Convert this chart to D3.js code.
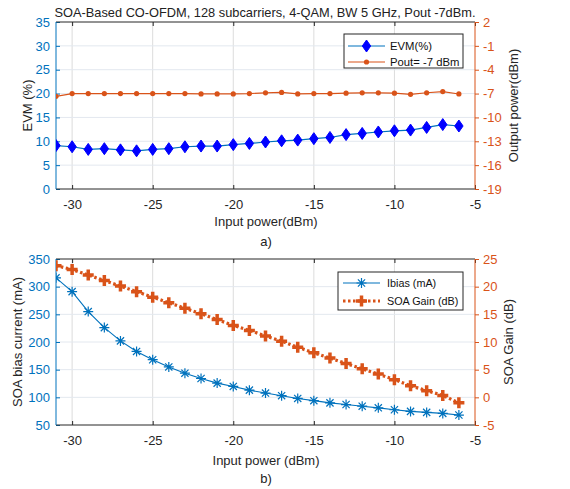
<!DOCTYPE html>
<html>
<head>
<meta charset="utf-8">
<script src="https://cdn.jsdelivr.net/npm/d3@7"></script>
<style>
  body { margin: 0; background: #fff; }
  svg { font-family: "Liberation Sans", Arial, sans-serif; }
</style>
</head>
<body>
<svg id="chart" width="570" height="489"></svg>
<script>
// Input power (dBm), shared by both panels
const inputPower = [-31, -30, -29, -28, -27, -26, -25, -24, -23, -22, -21, -20, -19,
                    -18, -17, -16, -15, -14, -13, -12, -11, -10, -9, -8, -7, -6];

// panel a)
const evm = [9.1, 8.85, 8.3, 8.45, 8.2, 8.0, 8.3, 8.45, 8.85, 9.0, 9.0, 9.3, 9.55,
             9.85, 10.1, 10.25, 10.55, 10.8, 11.4, 11.65, 11.95, 12.2, 12.35, 12.9, 13.5, 13.2];
const pout = [-7.35, -7.0, -7.0, -7.0, -7.0, -7.0, -7.0, -7.0, -7.0, -7.05, -7.05, -7.05, -7.0,
              -6.9, -6.85, -7.05, -7.0, -7.0, -6.95, -6.9, -6.9, -6.95, -7.1, -6.9, -6.75, -7.05];

// panel b)
const ibias = [316, 291, 255, 226, 202, 183, 168, 155, 143.7, 134, 125.7, 119.7, 113,
               107.7, 103, 98, 94, 90, 87, 84, 81, 77.6, 74.6, 72.8, 71, 68];
const gain = [23.8, 23.1, 22.1, 21.1, 20.1, 19.1, 18.1, 17.1, 16.1, 15.1, 14.05, 13.0, 12.1,
              11.1, 10.15, 9.05, 8.05, 7.1, 6.1, 5.15, 4.2, 3.2, 2.1, 1.2, 0.35, -1.0];

const xTicks = [-30, -25, -20, -15, -10, -5];
const evmTicks = [0, 5, 10, 15, 20, 25, 30, 35];
const poutTicks = [-19, -16, -13, -10, -7, -4, -1, 2];
const ibiasTicks = [50, 100, 150, 200, 250, 300, 350];
const gainTicks = [-5, 0, 5, 10, 15, 20, 25];

const BLUE = "#0072BD", ORANGE = "#D95319";
const fmt = d => String(d);   // plain hyphen minus, like the original

const svg = d3.select("#chart");

svg.append("text")
    .attr("x", 265).attr("y", 16.5)
    .attr("text-anchor", "middle")
    .attr("font-size", 12.8)
    .attr("fill", "#222")
    .text("SOA-Based CO-OFDM, 128 subcarriers, 4-QAM, BW 5 GHz, Pout -7dBm.");

function panel(opt) {
    const left = 56, right = 475;
    const x = d3.scaleLinear().domain([-31, -5]).range([left, right]);
    const yL = d3.scaleLinear().domain(opt.lDomain).range([opt.bottom, opt.top]);
    const yR = d3.scaleLinear().domain(opt.rDomain).range([opt.bottom, opt.top]);
    const g = svg.append("g");

    g.append("clipPath").attr("id", opt.id)
        .append("rect").attr("x", left).attr("y", opt.top)
        .attr("width", right - left).attr("height", opt.bottom - opt.top);

    // grid
    g.append("g").selectAll("line").data(xTicks.slice(0, -1)).join("line")
        .attr("x1", d => x(d)).attr("x2", d => x(d))
        .attr("y1", opt.top).attr("y2", opt.bottom)
        .attr("stroke", "#dcdcdc").attr("stroke-width", 1);
    g.append("g").selectAll("line").data(opt.lTicks.slice(1, -1)).join("line")
        .attr("x1", left).attr("x2", right)
        .attr("y1", d => yL(d)).attr("y2", d => yL(d))
        .attr("stroke", "#e3e8ef").attr("stroke-width", 1);

    // axes
    const xAxis = g.append("g").attr("transform", `translate(0,${opt.bottom})`)
        .call(d3.axisBottom(x).tickValues(xTicks).tickFormat(fmt).tickSize(-4).tickPadding(11));
    const xTop = g.append("g").attr("transform", `translate(0,${opt.top})`)
        .call(d3.axisTop(x).tickValues(xTicks).tickSize(-4).tickFormat(""));
    const lAxis = g.append("g").attr("transform", `translate(${left},0)`)
        .call(d3.axisLeft(yL).tickValues(opt.lTicks).tickFormat(fmt).tickSize(-4).tickPadding(6));
    const rAxis = g.append("g").attr("transform", `translate(${right},0)`)
        .call(d3.axisRight(yR).tickValues(opt.rTicks).tickFormat(fmt).tickSize(4).tickPadding(4));

    [[xAxis, "#262626"], [xTop, "#262626"], [lAxis, BLUE], [rAxis, ORANGE]].forEach(([a, c]) => {
        a.select(".domain").remove();
        a.selectAll(".tick line").attr("stroke", c);
        a.selectAll(".tick text").attr("fill", c)
            .attr("font-size", 13)
            .attr("font-family", "Liberation Sans, Arial, sans-serif");
    });
    g.append("line").attr("x1", left).attr("x2", right).attr("y1", opt.bottom).attr("y2", opt.bottom)
        .attr("stroke", "#262626");
    g.append("line").attr("x1", left).attr("x2", right).attr("y1", opt.top).attr("y2", opt.top)
        .attr("stroke", "#262626");
    g.append("line").attr("x1", left).attr("x2", left).attr("y1", opt.top).attr("y2", opt.bottom)
        .attr("stroke", BLUE);
    g.append("line").attr("x1", right).attr("x2", right).attr("y1", opt.top).attr("y2", opt.bottom)
        .attr("stroke", ORANGE);

    // labels
    g.append("text").attr("x", 266).attr("y", opt.xLabelY)
        .attr("text-anchor", "middle").attr("font-size", 13).attr("fill", "#262626")
        .text(opt.xLabel);
    g.append("text").attr("x", 266).attr("y", opt.tagY)
        .attr("text-anchor", "middle").attr("font-size", 13).attr("fill", "#222")
        .text(opt.tag);
    g.append("text")
        .attr("transform", `translate(${opt.lLabelX},${(opt.top + opt.bottom) / 2}) rotate(-90)`)
        .attr("text-anchor", "middle").attr("font-size", 13).attr("fill", "#262626")
        .text(opt.lLabel);
    g.append("text")
        .attr("transform", `translate(${opt.rLabelX},${(opt.top + opt.bottom) / 2}) rotate(-90)`)
        .attr("text-anchor", "middle").attr("font-size", 13).attr("fill", "#262626")
        .text(opt.rLabel);

    const plot = g.append("g").attr("clip-path", `url(#${opt.id})`);
    return { x, yL, yR, plot, g };
}

function diamond(sel, cx, cy, r, fill) {
    sel.append("path")
        .attr("d", `M${cx},${cy - r}L${cx + r * 0.7},${cy}L${cx},${cy + r}L${cx - r * 0.7},${cy}Z`)
        .attr("fill", fill).attr("stroke", fill);
}
function asterisk(sel, cx, cy, r, c) {
    const p = d3.path();
    p.moveTo(cx - r, cy); p.lineTo(cx + r, cy);
    p.moveTo(cx, cy - r); p.lineTo(cx, cy + r);
    const k = r * 0.72;
    p.moveTo(cx - k, cy - k); p.lineTo(cx + k, cy + k);
    p.moveTo(cx - k, cy + k); p.lineTo(cx + k, cy - k);
    sel.append("path").attr("d", p.toString()).attr("stroke", c).attr("stroke-width", 1.2).attr("fill", "none");
}
function plus(sel, cx, cy, r, c) {
    sel.append("path").attr("d", `M${cx - r},${cy}H${cx + r}M${cx},${cy - r}V${cy + r}`)
        .attr("stroke", c).attr("stroke-width", 3.5).attr("fill", "none");
}

// ---- panel a) ----
const a = panel({
    id: "clipA", top: 22, bottom: 189,
    lDomain: [0, 35], rDomain: [-19, 2], lTicks: evmTicks, rTicks: poutTicks,
    xLabel: "Input power(dBm)", tag: "a)", lLabel: "EVM (%)", rLabel: "Output power(dBm)",
    xLabelY: 226, tagY: 246, lLabelX: 32, rLabelX: 518
});
a.plot.append("path").datum(inputPower.map((p, i) => [p, pout[i]]))
    .attr("d", d3.line().x(d => a.x(d[0])).y(d => a.yR(d[1])))
    .attr("fill", "none").attr("stroke", ORANGE).attr("stroke-width", 1.2);
a.plot.selectAll("circle.pout").data(inputPower.map((p, i) => [p, pout[i]])).join("circle")
    .attr("cx", d => a.x(d[0])).attr("cy", d => a.yR(d[1])).attr("r", 2.6).attr("fill", ORANGE);
a.plot.append("path").datum(inputPower.map((p, i) => [p, evm[i]]))
    .attr("d", d3.line().x(d => a.x(d[0])).y(d => a.yL(d[1])))
    .attr("fill", "none").attr("stroke", BLUE).attr("stroke-width", 1.2);
inputPower.forEach((p, i) => diamond(a.plot, a.x(p), a.yL(evm[i]), 6, "#0000FF"));

// legend a)
const la = a.g.append("g");
la.append("rect").attr("x", 344).attr("y", 34).attr("width", 119).attr("height", 34)
    .attr("fill", "#fff").attr("stroke", "#262626").attr("stroke-width", 1);
la.append("line").attr("x1", 348).attr("x2", 385).attr("y1", 46).attr("y2", 46)
    .attr("stroke", BLUE).attr("stroke-width", 1.2);
diamond(la, 366.5, 46, 6, "#0000FF");
la.append("text").attr("x", 390).attr("y", 50).attr("font-size", 11.3).attr("fill", "#111").text("EVM(%)");
la.append("line").attr("x1", 348).attr("x2", 385).attr("y1", 62).attr("y2", 62)
    .attr("stroke", ORANGE).attr("stroke-width", 1.2);
la.append("circle").attr("cx", 366.5).attr("cy", 62).attr("r", 2.6).attr("fill", ORANGE);
la.append("text").attr("x", 390).attr("y", 66).attr("font-size", 11.3).attr("fill", "#111").text("Pout= -7 dBm");

// ---- panel b) ----
const b = panel({
    id: "clipB", top: 259, bottom: 425,
    lDomain: [50, 350], rDomain: [-5, 25], lTicks: ibiasTicks, rTicks: gainTicks,
    xLabel: "Input power (dBm)", tag: "b)", lLabel: "SOA bias current (mA)", rLabel: "SOA Gain (dB)",
    xLabelY: 465, tagY: 483, lLabelX: 22, rLabelX: 513
});
b.plot.append("path").datum(inputPower.map((p, i) => [p, gain[i]]))
    .attr("d", d3.line().x(d => b.x(d[0])).y(d => b.yR(d[1])))
    .attr("fill", "none").attr("stroke", ORANGE).attr("stroke-width", 3.2)
    .attr("stroke-dasharray", "2.5,2.5");
inputPower.forEach((p, i) => plus(b.plot, b.x(p), b.yR(gain[i]), 5.5, ORANGE));
b.plot.append("path").datum(inputPower.map((p, i) => [p, ibias[i]]))
    .attr("d", d3.line().x(d => b.x(d[0])).y(d => b.yL(d[1])))
    .attr("fill", "none").attr("stroke", BLUE).attr("stroke-width", 1.1);
inputPower.forEach((p, i) => asterisk(b.plot, b.x(p), b.yL(ibias[i]), 5, BLUE));

// legend b)
const lb = b.g.append("g");
lb.append("rect").attr("x", 338).attr("y", 272).attr("width", 125).attr("height", 38)
    .attr("fill", "#fff").attr("stroke", "#262626").attr("stroke-width", 1);
lb.append("line").attr("x1", 343).attr("x2", 380).attr("y1", 283).attr("y2", 283)
    .attr("stroke", BLUE).attr("stroke-width", 1.1);
asterisk(lb, 361.5, 283, 5, BLUE);
lb.append("text").attr("x", 387).attr("y", 287).attr("font-size", 10.8).attr("fill", "#111").text("Ibias (mA)");
lb.append("line").attr("x1", 343).attr("x2", 380).attr("y1", 301).attr("y2", 301)
    .attr("stroke", ORANGE).attr("stroke-width", 3.2).attr("stroke-dasharray", "2.5,2.5");
plus(lb, 361.5, 301, 5.5, ORANGE);
lb.append("text").attr("x", 387).attr("y", 305).attr("font-size", 10.8).attr("fill", "#111").text("SOA Gain (dB)");
</script>
</body>
</html>
